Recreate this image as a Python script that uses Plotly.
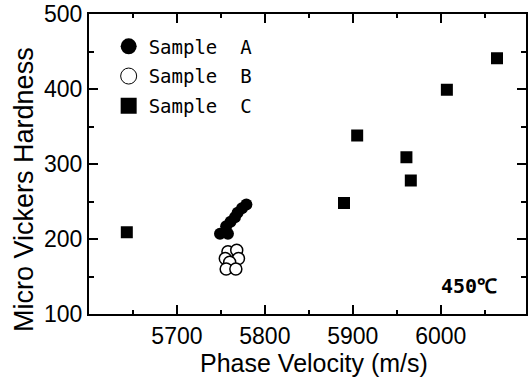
import plotly.graph_objects as go

# Sample A (filled circles)
a_vel = [5749, 5758, 5756, 5761, 5766, 5769, 5774, 5779]
a_hv = [207, 207, 217, 223, 229, 235, 241, 246]
# Sample B (open circles)
b_vel = [5758, 5768, 5755, 5770, 5760, 5756, 5767]
b_hv = [183, 185, 174, 174, 169, 160, 160]
# Sample C (squares)
c_vel = [5643, 5890, 5905, 5961, 5966, 6007, 6064]
c_hv = [209, 248, 338, 309, 278, 399, 441]

x_ticks = [5700, 5800, 5900, 6000]
y_ticks = [100, 200, 300, 400, 500]

fig = go.Figure()
fig.add_trace(go.Scatter(x=a_vel, y=a_hv, mode="markers", showlegend=False,
                         marker=dict(symbol="circle", size=12, color="black")))
fig.add_trace(go.Scatter(x=b_vel, y=b_hv, mode="markers", showlegend=False,
                         marker=dict(symbol="circle", size=12, color="white",
                                     line=dict(color="black", width=1.5))))
fig.add_trace(go.Scatter(x=c_vel, y=c_hv, mode="markers", showlegend=False,
                         marker=dict(symbol="square", size=12, color="black")))

# legend entries
NB = "\u00a0"
fig.add_trace(go.Scatter(x=[None], y=[None], mode="markers", name="Sample" + NB + NB + "A",
                         legendgroup="a", marker=dict(symbol="circle", size=16, color="black")))
fig.add_trace(go.Scatter(x=[None], y=[None], mode="markers", name="Sample" + NB + NB + "B",
                         legendgroup="b", marker=dict(symbol="circle", size=16, color="white",
                                                      line=dict(color="black", width=1))))
fig.add_trace(go.Scatter(x=[None], y=[None], mode="markers", name="Sample" + NB + NB + "C",
                         legendgroup="c", marker=dict(symbol="square", size=16, color="black")))

axis_common = dict(
    showgrid=False, zeroline=False, showline=True, linecolor="black", linewidth=2,
    mirror="ticks", ticks="inside", ticklen=9, tickwidth=1.5, tickcolor="black",
    ticklabeloverflow="allow",
    tickfont=dict(family="Liberation Sans, Arial", size=23, color="black"),
)

fig.update_xaxes(range=[5600, 6097], tickvals=x_ticks, ticktext=[str(v) for v in x_ticks],
                 minor=dict(ticks="inside", ticklen=4, tickwidth=1.5, tickcolor="black",
                            tickvals=[5650, 5750, 5850, 5950, 6050]),
                 **axis_common)
fig.update_yaxes(range=[100, 500], tickvals=y_ticks, ticktext=[str(v) for v in y_ticks],
                 minor=dict(ticks="inside", ticklen=5, tickwidth=1.5, tickcolor="black",
                            tickvals=[150, 250, 350, 450]),
                 **axis_common)

fig.add_annotation(text="Micro Vickers Hardness", textangle=-90, xref="paper", yref="paper",
                   x=-0.150, y=0.415, xanchor="center", yanchor="middle", showarrow=False,
                   font=dict(family="Liberation Sans, Arial", size=27, color="black"))
fig.add_annotation(text="Phase Velocity (m/s)", xref="paper", yref="paper",
                   x=0.515, y=-0.163, xanchor="center", yanchor="middle", showarrow=False,
                   font=dict(family="Liberation Sans, Arial", size=25, color="black"))
fig.add_annotation(text="<b>450℃</b>", xref="paper", yref="paper",
                   x=0.870, y=0.095, xanchor="center", yanchor="middle", showarrow=False,
                   font=dict(family="DejaVu Sans Mono", size=20, color="black"))

fig.update_layout(
    width=529, height=378,
    margin=dict(l=89, r=1, t=10, b=64),
    plot_bgcolor="white", paper_bgcolor="white",
    legend=dict(x=0.045, y=0.955, xanchor="left", yanchor="top", tracegroupgap=2,
                bgcolor="rgba(0,0,0,0)",
                font=dict(family="DejaVu Sans Mono", size=19, color="black")),
)

fig.write_html("out.html")
